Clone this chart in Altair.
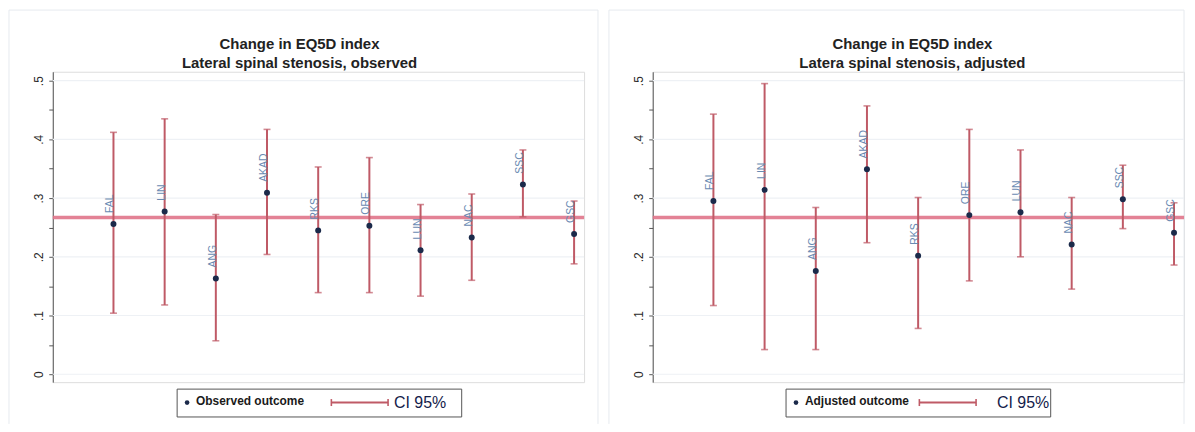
import altair as alt
import pandas as pd

# ---- data ----
cats = ["FAL", "LIN", "ANG", "AKAD", "RKS", "ORE", "LUN", "NAC", "SSC", "GSC"]

obs_est = [0.256, 0.277, 0.163, 0.309, 0.245, 0.253, 0.211, 0.233, 0.323, 0.239]
obs_lo = [0.104, 0.118, 0.057, 0.204, 0.139, 0.139, 0.133, 0.160, 0.268, 0.188]
obs_hi = [0.412, 0.435, 0.272, 0.417, 0.353, 0.369, 0.289, 0.307, 0.382, 0.295]

adj_est = [0.295, 0.314, 0.176, 0.349, 0.202, 0.271, 0.276, 0.221, 0.298, 0.241]
adj_lo = [0.117, 0.042, 0.042, 0.224, 0.078, 0.159, 0.200, 0.145, 0.248, 0.186]
adj_hi = [0.443, 0.495, 0.284, 0.457, 0.301, 0.417, 0.382, 0.301, 0.356, 0.292]

ref_value = [0.267]
grid_values = [0.0, 0.1, 0.2, 0.3, 0.4, 0.5]
tick_values = [0.0, 0.05, 0.1, 0.15, 0.2, 0.25, 0.3, 0.35, 0.4, 0.45, 0.5]

title_main = "Change in EQ5D index"
title_left = "Lateral spinal stenosis, observed"
title_right = "Latera spinal stenosis, adjusted"
legend_left = "Observed outcome"
legend_right = "Adjusted outcome"
legend_ci = "CI 95%"

# ---- style ----
FONT = "Liberation Sans"
W, H = 534, 312
X_DOM = [-0.186, 10.195]
Y_DOM = [-0.0135, 0.5152]
BAR = "#bf5a66"
DOT = "#1b2a4a"
REF = "#e07489"
LAB = "#6a8ab2"
FRAME = "#e6eaef"

xs = alt.Scale(domain=X_DOM, nice=False, zero=False)
ys = alt.Scale(domain=Y_DOM, nice=False, zero=False)

yaxis = alt.Axis(
    values=tick_values,
    labelExpr="abs(datum.value*10 - round(datum.value*10)) > 0.01 ? '' : (datum.value == 0 ? '0' : replace(format(datum.value, '.1f'), '0.', '.'))",
    grid=False, title=None, domainColor="#555555", tickColor="#555555",
    tickSize=4, labelAngle=270, labelFontSize=12, labelColor="#2a2a2a",
    labelFont=FONT, labelPadding=3, domainWidth=1, tickWidth=1,
)

one = alt.Data(values=[{"k": 1}])


def panel(est, lo, hi, subtitle, leg_text, leg, title_x, frame_right):
    df = pd.DataFrame({"i": list(range(1, len(cats) + 1)), "cat": cats,
                       "est": est, "lo": lo, "hi": hi})
    X = alt.X("i:Q", scale=xs, axis=None)

    grid = alt.Chart(pd.DataFrame({"g": grid_values})).mark_rule(
        color="#eef1f5", strokeWidth=1.2
    ).encode(y=alt.Y("g:Q", scale=ys, axis=yaxis))

    ref = alt.Chart(pd.DataFrame({"r": ref_value})).mark_rule(
        color=REF, strokeWidth=3.5, opacity=0.9
    ).encode(y=alt.Y("r:Q", scale=ys, axis=yaxis))

    base = alt.Chart(df)
    bars = base.mark_rule(color=BAR, strokeWidth=2).encode(
        x=X, y=alt.Y("lo:Q", scale=ys, axis=yaxis), y2="hi:Q")
    cap_lo = base.mark_tick(color=BAR, orient="horizontal", size=7, thickness=1.6).encode(
        x=X, y=alt.Y("lo:Q", scale=ys, axis=yaxis))
    cap_hi = base.mark_tick(color=BAR, orient="horizontal", size=7, thickness=1.6).encode(
        x=X, y=alt.Y("hi:Q", scale=ys, axis=yaxis))
    dots = base.mark_point(filled=True, color=DOT, size=36, opacity=1).encode(
        x=X, y=alt.Y("est:Q", scale=ys, axis=yaxis))
    labels = base.mark_text(
        angle=270, align="left", baseline="middle", dx=11, dy=-3,
        font=FONT, fontSize=10.5, color=LAB,
    ).encode(x=X, y=alt.Y("est:Q", scale=ys, axis=yaxis), text="cat:N")

    # panel frame (decoration)
    frame_l = alt.Chart(one).mark_rule(color=FRAME, strokeWidth=1).encode(
        x=alt.value(-44), y=alt.value(-62), y2=alt.value(354))
    frame_t = alt.Chart(one).mark_rule(color=FRAME, strokeWidth=1).encode(
        x=alt.value(-44), x2=alt.value(frame_right), y=alt.value(-62))
    frames = [frame_l, frame_t]
    if frame_right <= 548:
        frames.append(alt.Chart(one).mark_rule(color=FRAME, strokeWidth=1).encode(
            x=alt.value(frame_right), y=alt.value(-62), y2=alt.value(354)))

    # titles (drawn as text)
    t1 = alt.Chart(one).mark_text(
        text=title_main, align="center", baseline="middle", font=FONT, fontSize=15,
        fontWeight="bold", color="#222222").encode(x=alt.value(title_x), y=alt.value(-28))
    t2 = alt.Chart(one).mark_text(
        text=subtitle, align="center", baseline="middle", font=FONT, fontSize=15,
        fontWeight="bold", color="#222222").encode(x=alt.value(title_x), y=alt.value(-9))

    # legend box (drawn)
    bx0, bx1, dotx, tx, cix0, cix1, citx = leg
    box = alt.Chart(one).mark_rect(fill="white", stroke="#555555", strokeWidth=1).encode(
        x=alt.value(bx0), x2=alt.value(bx1), y=alt.value(319), y2=alt.value(347))
    ldot = alt.Chart(one).mark_point(filled=True, color=DOT, size=22, opacity=1).encode(
        x=alt.value(dotx), y=alt.value(332.5))
    ltext = alt.Chart(one).mark_text(
        text=leg_text, align="left", baseline="middle", font=FONT, fontSize=12,
        fontWeight="bold", color="#1a1a1a").encode(x=alt.value(tx), y=alt.value(330.5))
    lbar = alt.Chart(one).mark_rule(color=BAR, strokeWidth=2).encode(
        x=alt.value(cix0), x2=alt.value(cix1), y=alt.value(332.5))
    lcap1 = alt.Chart(one).mark_rule(color=BAR, strokeWidth=1.6).encode(
        x=alt.value(cix0), y=alt.value(329), y2=alt.value(336))
    lcap2 = alt.Chart(one).mark_rule(color=BAR, strokeWidth=1.6).encode(
        x=alt.value(cix1), y=alt.value(329), y2=alt.value(336))
    lci = alt.Chart(one).mark_text(
        text=legend_ci, align="left", baseline="middle", font=FONT, fontSize=16,
        color="#14204a").encode(x=alt.value(citx), y=alt.value(333))

    layers = frames + [t1, t2, grid, ref, bars, cap_lo, cap_hi, dots, labels,
                       box, ldot, ltext, lbar, lcap1, lcap2, lci]
    return alt.layer(*layers).properties(width=W, height=H)


left = panel(obs_est, obs_lo, obs_hi, title_left, legend_left,
             (125, 411, 135, 144, 280, 337, 343), 248, 548)
right = panel(adj_est, adj_lo, adj_hi, title_right, legend_right,
              (134, 400, 144, 153, 268, 325, 346), 261, 534)

chart = alt.hconcat(left, right, spacing=9).properties(padding=0).configure_view(
    stroke=None).configure(font=FONT)

chart.save("out.html", embed_options={"renderer": "svg", "actions": False})
